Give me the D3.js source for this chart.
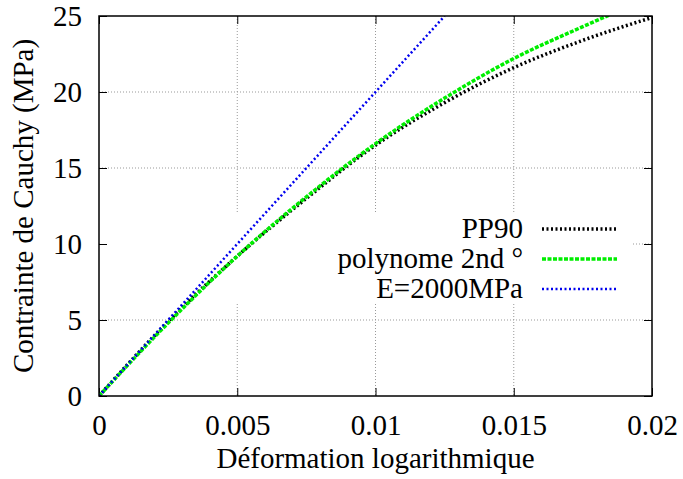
<!DOCTYPE html>
<html>
<head>
<meta charset="utf-8">
<script src="https://cdn.jsdelivr.net/npm/d3@7"></script>
<style>
  body { margin: 0; background: #fff; }
  svg { display: block; }
</style>
</head>
<body>
<div class="container"></div>
<script>
// values
const strain = [0, 0.0025, 0.005, 0.0075, 0.01, 0.0125, 0.015, 0.0175, 0.02];
const pp90 = [0, 4.9, 9.2, 13.0, 16.5, 19.3, 21.6, 23.4, 24.9];
const polyStrain = [0, 0.0025, 0.005, 0.0075, 0.01, 0.0125, 0.015, 0.0175, 0.0185];
const poly = [0, 4.8, 9.2, 13.1, 16.6, 19.6, 22.2, 24.3, 25.1];
const elasStrain = [0, 0.0125];
const elas = [0, 25];
const xTicks = [0, 0.005, 0.01, 0.015, 0.02];
const yTicks = [0, 5, 10, 15, 20, 25];
const legendLabels = ["PP90", "polynome 2nd °", "E=2000MPa"];

const width = 683;
const height = 479;
const margin = { top: 16, right: 31, bottom: 83, left: 99 };
const innerWidth = width - margin.left - margin.right;
const innerHeight = height - margin.top - margin.bottom;
const fontSize = 29;
const fontFamily = "'Liberation Serif', 'Times New Roman', Times, serif";

const svg = d3
  .select(".container")
  .append("svg")
  .attr("width", width)
  .attr("height", height);

const g = svg
  .append("g")
  .attr("transform", `translate(${margin.left},${margin.top})`);

const xScale = d3.scaleLinear().domain([0, 0.02]).range([0, innerWidth]);
const yScale = d3.scaleLinear().domain([0, 25]).range([innerHeight, 0]);

// grid
g.append("g")
  .selectAll("line")
  .data(xTicks.slice(1, -1))
  .enter()
  .append("line")
  .attr("x1", (d) => xScale(d))
  .attr("x2", (d) => xScale(d))
  .attr("y1", 0)
  .attr("y2", innerHeight)
  .attr("stroke", "#999")
  .attr("stroke-width", 1)
  .attr("stroke-dasharray", "1,2");

g.append("g")
  .selectAll("line")
  .data(yTicks.slice(1, -1))
  .enter()
  .append("line")
  .attr("x1", 0)
  .attr("x2", innerWidth)
  .attr("y1", (d) => yScale(d))
  .attr("y2", (d) => yScale(d))
  .attr("stroke", "#999")
  .attr("stroke-width", 1)
  .attr("stroke-dasharray", "1,2");

// key box hides the grid behind it
g.append("rect")
  .attr("x", 2)
  .attr("y", 197)
  .attr("width", 531)
  .attr("height", 89)
  .attr("fill", "#fff");

// axes with inward ticks, mirrored
const fmt = (d) => (d === 0 ? "0" : String(d));
const xAxis = g
  .append("g")
  .attr("transform", `translate(0,${innerHeight})`)
  .call(d3.axisBottom(xScale).tickValues(xTicks).tickSize(-8).tickFormat(fmt));
const xTop = g.append("g").call(d3.axisTop(xScale).tickValues(xTicks).tickSize(-8));
const yAxis = g
  .append("g")
  .call(d3.axisLeft(yScale).tickValues(yTicks).tickSize(-8).tickFormat(fmt));
const yRight = g
  .append("g")
  .attr("transform", `translate(${innerWidth},0)`)
  .call(d3.axisRight(yScale).tickValues(yTicks).tickSize(-8));

xTop.selectAll("text").remove();
yRight.selectAll("text").remove();
[xAxis, xTop, yAxis, yRight].forEach((a) => {
  a.select(".domain").remove();
  a.selectAll("line").attr("stroke", "#000").attr("stroke-width", 1);
});
xAxis.selectAll("text").attr("dy", null).attr("y", 39);
yAxis.selectAll("text").attr("dy", "0.34em").attr("x", -17);

// curves
svg.append("clipPath")
  .attr("id", "clip")
  .append("rect")
  .attr("width", innerWidth)
  .attr("height", innerHeight);

const line = d3
  .line()
  .x((d) => xScale(d[0]))
  .y((d) => yScale(d[1]))
  .curve(d3.curveMonotoneX);

const series = [
  { name: legendLabels[0], xs: strain, ys: pp90, color: "#000", w: 3.5, dash: "2,2.5" },
  { name: legendLabels[1], xs: polyStrain, ys: poly, color: "#00ee00", w: 3.5, dash: "4,1.5" },
  { name: legendLabels[2], xs: elasStrain, ys: elas, color: "#0000ee", w: 2.5, dash: "2,2.5" },
];

const curves = g.append("g").attr("clip-path", "url(#clip)");
series.forEach((s) => {
  curves
    .append("path")
    .datum(s.xs.map((x, i) => [x, s.ys[i]]))
    .attr("fill", "none")
    .attr("stroke", s.color)
    .attr("stroke-width", s.w)
    .attr("stroke-dasharray", s.dash)
    .attr("d", line);
});

// frame
g.append("rect")
  .attr("width", innerWidth)
  .attr("height", innerHeight)
  .attr("fill", "none")
  .attr("stroke", "#000")
  .attr("stroke-width", 1.5);

// legend
const key = g.append("g").attr("transform", `translate(0,222)`);
series.forEach((s, i) => {
  key.append("text")
    .attr("x", 424)
    .attr("y", i * 30)
    .attr("text-anchor", "end")
    .text(s.name);
  key.append("line")
    .attr("x1", 443)
    .attr("x2", 518)
    .attr("y1", i * 30 - 9)
    .attr("y2", i * 30 - 9)
    .attr("stroke", s.color)
    .attr("stroke-width", s.w)
    .attr("stroke-dasharray", s.dash);
});

// axis titles
svg.append("text")
  .attr("x", margin.left + innerWidth / 2)
  .attr("y", 468)
  .attr("text-anchor", "middle")
  .text("Déformation logarithmique");

svg.append("text")
  .attr("transform", `translate(33,${margin.top + innerHeight / 2}) rotate(-90)`)
  .attr("text-anchor", "middle")
  .text("Contrainte de Cauchy (MPa)");

svg.selectAll("text")
  .attr("font-family", fontFamily)
  .style("font-family", fontFamily)
  .style("font-size", fontSize + "px")
  .attr("fill", "#000");
</script>
</body>
</html>
